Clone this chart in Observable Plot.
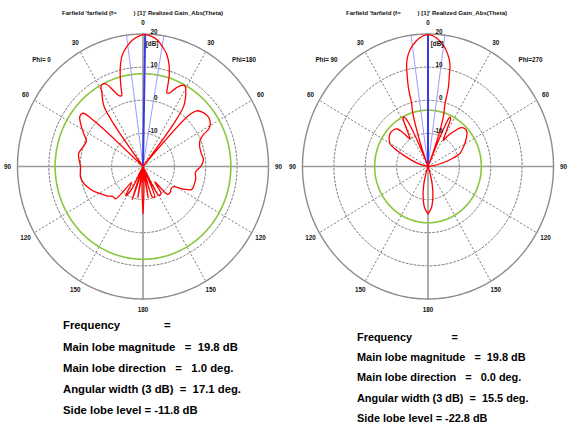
<!DOCTYPE html>
<html><head><meta charset="utf-8">
<script src="https://cdn.jsdelivr.net/npm/d3@7"></script>
<script src="https://cdn.jsdelivr.net/npm/@observablehq/plot@0.6"></script>
<style>
html,body{margin:0;padding:0;background:#fff}
body{width:568px;height:425px;overflow:hidden;position:relative;font-family:"Liberation Sans",Arial,sans-serif}
.panel{position:absolute;top:0;width:284px;height:425px}
.panel svg{position:absolute;left:0;top:0}
.stats{position:absolute;font-weight:bold;white-space:pre;color:#000}
</style></head><body>
<div id="left" class="panel" style="left:0"></div>
<div id="right" class="panel" style="left:284px"></div>
<script>
// radial scale (dB at centre and at outer circle) and grid
const DB_MIN = -20, DB_MAX = 20;
const ringDb = [-10, 0, 10];
const ringLabelDb = [20, 10, 0, -10];
const angleTicks = [0, 30, 60, 90, 120, 150, 180];
const spokeDeg = [30, 60, 120, 150, 210, 240, 300, 330];

// left cut: theta (deg, clockwise from top; left half = Phi 0) and realized gain (dB)
const leftTheta = [-180,-177,-174,-170,-166,-161,-157,-152,-148,-143,-138,-133,-128,-121,-115,-109,-104,-99,-94,-90,-84,-79,-73,-67,-62,-57,-53,-50,-48.5,-47,-38,-36,-34.5,-32.5,-30.5,-29,-27,-25,-23,-21,-19,-17.5,-16.5,-15,-13,-11,-8,-5,-2,1,4,7,10,12.5,15,16.8,18,19,21,24,27,29,31,33,35.5,37,38.5,42,43.5,45.5,49,52,55.5,59,61.5,63.5,67,72,78,84,90,96,102,108,114,118,122,127,132,137,141,145,150,154,158,162,166,170,174,177,180];
const leftGain  = [-5.8,-14,-21,-10.5,-21,-9.5,-21,-12,-9.6,-14,-6.9,-6.8,-5.5,-4.1,-2.5,-1.2,-0.3,0.2,0,-0.1,0.5,0.9,0,-0.4,1.5,3.7,5.2,5.0,1,-21,-21,-4,1.8,4,5.8,7.6,8.0,7.4,5.5,3.5,2.5,2.5,4.5,8,11.8,14.4,16.6,18.3,19.4,19.8,19.4,18.4,16.5,14.8,12,9,5.5,3.5,3.8,6,7.6,7.7,6.5,4.9,2.3,-3,-21,-21,1.5,4,5,5.5,5.6,5,4,1.5,-0.3,-1,-1,-0.6,-1.6,-3.2,-2.8,-2.8,-3.0,-5.5,-8.5,-8.8,-8.3,-8.5,-14,-10,-9.9,-20,-10,-10.3,-21,-10.5,-21,-14,-5.8];

// right cut: left half = Phi 90
const rightTheta = [-180,-175,-170,-166,-162,-158,-88,-84,-78,-72,-67.6,-64,-60.5,-55,-50,-45,-41,-38,-34.5,-32,-29.5,-28,-26.5,-25,-23.5,-22,-21,-19.5,-18,-16.5,-15.4,-14.7,-13.5,-12.4,-10.5,-7.75,-4,0,4,7.75,10.5,12.7,14,15.2,16.2,17.7,19.4,21,22,23.5,25,26.5,28,30,32,34,38,42,46,50,54,60,65,69,73,78,83,88,158,162,166,170,175,180];
const rightGain  = [-5.7,-7.5,-11,-14.5,-18,-21,-21,-20,-18.5,-15.5,-12.6,-9,-6.1,-4.9,-4.3,-4.4,-5,-7,-9.9,-8,-4.5,-3.1,-3.5,-6,-11,-18,-20,-14,-8,-2.5,-0.4,4.7,8.5,11.7,14.5,16.8,18.9,19.8,18.9,16.8,14.5,11.8,8,4.8,-1,-3.5,-8.5,-16,-20,-9,-3.6,-3.8,-6.5,-9.5,-10.8,-9,-6.5,-4.2,-3.6,-3.8,-4.8,-6.5,-8,-9.1,-12,-16,-19,-21,-21,-18,-14.5,-11,-7.5,-5.7];

// summary values
const leftMag = 19.8, leftDir = 1.0, leftWidth = 17.1, leftSll = -11.8;
const rightMag = 19.8, rightDir = 0.0, rightWidth = 15.5, rightSll = -22.8;
const leftPhi = ["Phi=\u00A00", "Phi=180"];
const rightPhi = ["Phi=\u00A090", "Phi=270"];
const titleA = "Farfield 'farfield (f=";
const titleB = ") [1]' Realized Gain_Abs(Theta)";

const NB = n => "\u00A0".repeat(n);
const FONT = "Liberation Sans, Arial, sans-serif";

function statsLines(mag, dir, width, sll, fq) {
  return [
    "Frequency" + NB(fq) + "=",
    "Main lobe magnitude" + NB(3) + "=" + NB(2) + mag.toFixed(1) + " dB",
    "Main lobe direction" + NB(3) + "=" + NB(3) + dir.toFixed(1) + " deg.",
    "Angular width (3 dB)" + NB(2) + "=" + NB(2) + width.toFixed(1) + " deg.",
    "Side lobe level = " + sll.toFixed(1) + " dB"
  ];
}

function drawPanel(el, cfg) {
  const rad = db => Math.max(0, db - DB_MIN);
  const pt = (deg, db) => { const a = deg * Math.PI / 180, r = rad(db); return {x: r * Math.sin(a), y: r * Math.cos(a)}; };
  const circ = (db, k) => d3.range(0, 361, 1).map(a => ({...pt(a, db), k}));
  const ringPts = ringDb.flatMap(db => circ(db, db));
  const outerPts = circ(DB_MAX, "o");
  const sllPts = circ(cfg.mag + cfg.sll, "s");
  const curvePts = cfg.theta.map((t, i) => pt(t, cfg.gain[i]));
  const ray = d => { const p = pt(d, DB_MAX); return {x1: 0, y1: 0, x2: p.x, y2: p.y}; };
  const spokes = spokeDeg.map(ray);
  const axes = [[0, 180], [90, 270]].map(([a, b]) => { const p = pt(a, DB_MAX), q = pt(b, DB_MAX); return {x1: p.x, y1: p.y, x2: q.x, y2: q.y}; });
  const beam = [cfg.dir - cfg.width / 2, cfg.dir + cfg.width / 2].map(ray);
  const main = [cfg.dir].map(ray);
  const angLab = angleTicks.flatMap(t => (t === 0 || t === 180) ? [{t, s: String(t)}] : [{t: -t, s: String(t)}, {t, s: String(t)}])
    .map(o => ({...pt(o.t, DB_MAX + 3.2), s: o.s}));
  const ringLab = ringLabelDb.map(db => ({x: 0, y: rad(db), s: String(db)}));
  const txt = {fontFamily: FONT, fontWeight: "bold", fill: "#111"};

  const chart = Plot.plot({
    width: 284, height: 316, margin: 0,
    x: {domain: [-40, 40], range: cfg.xRange, axis: null},
    y: {domain: [-40, 40], range: [298.5, 33.5], axis: null},
    style: {background: "transparent", overflow: "visible"},
    marks: [
      Plot.line(ringPts, {x: "x", y: "y", z: "k", stroke: "#777", strokeWidth: 1, strokeDasharray: "2,2"}),
      Plot.link(spokes, {x1: "x1", y1: "y1", x2: "x2", y2: "y2", stroke: "#777", strokeWidth: 1, strokeDasharray: "2,2"}),
      Plot.link(axes, {x1: "x1", y1: "y1", x2: "x2", y2: "y2", stroke: "#9a9a9a", strokeWidth: 1.6}),
      Plot.line(outerPts, {x: "x", y: "y", stroke: "#8c8c8c", strokeWidth: 1.4}),
      Plot.line(sllPts, {x: "x", y: "y", stroke: "#8cc63f", strokeWidth: 1.6}),
      Plot.link(beam, {x1: "x1", y1: "y1", x2: "x2", y2: "y2", stroke: "#9c9cff", strokeWidth: 1}),
      Plot.link(main, {x1: "x1", y1: "y1", x2: "x2", y2: "y2", stroke: "#3a3ae8", strokeWidth: 2}),
      Plot.line(curvePts, {x: "x", y: "y", stroke: "#ff0000", strokeWidth: 1.3, curve: "catmull-rom"}),
      Plot.text(angLab, {x: "x", y: "y", text: "s", fontSize: 6.3, ...txt}),
      Plot.text(ringLab, {x: "x", y: "y", text: "s", fontSize: 6.3, textAnchor: "end", dx: 14.5, dy: -2, ...txt}),
      Plot.text(["[dB]"], {x: () => 0, y: () => rad(DB_MAX), text: d => d, fontSize: 6.3, dx: 9, dy: 10, ...txt}),
      Plot.text([titleA + NB(cfg.gap) + titleB], {frameAnchor: "top", dy: 10, text: d => d, fontSize: 6.1, ...txt}),
      Plot.text([cfg.phi[0]], {frameAnchor: "top-left", dx: cfg.phiX[0], dy: 57, textAnchor: "middle", text: d => d, fontSize: 6.3, ...txt}),
      Plot.text([cfg.phi[1]], {frameAnchor: "top-left", dx: cfg.phiX[1], dy: 57, textAnchor: "middle", text: d => d, fontSize: 6.3, ...txt})
    ]
  });
  el.appendChild(chart);

  const div = document.createElement("div");
  div.className = "stats";
  div.style.left = cfg.statsLeft + "px";
  div.style.top = cfg.statsTop + "px";
  div.style.lineHeight = cfg.lineH + "px";
  div.style.fontSize = cfg.fontSize + "px";
  div.textContent = cfg.stats.join("\n");
  el.appendChild(div);
}

drawPanel(document.getElementById("left"), {
  theta: leftTheta, gain: leftGain, mag: leftMag, dir: leftDir, width: leftWidth, sll: leftSll,
  xRange: [17, 268], phi: leftPhi, phiX: [41, 243.5], gap: 10,
  stats: statsLines(leftMag, leftDir, leftWidth, leftSll, 14),
  statsLeft: 63, statsTop: 315.4, lineH: 21.2, fontSize: 11.3
});
drawPanel(document.getElementById("right"), {
  theta: rightTheta, gain: rightGain, mag: rightMag, dir: rightDir, width: rightWidth, sll: rightSll,
  xRange: [18, 269], phi: rightPhi, phiX: [42, 246], gap: 10,
  stats: statsLines(rightMag, rightDir, rightWidth, rightSll, 13),
  statsLeft: 73, statsTop: 326.5, lineH: 20.4, fontSize: 10.9
});
</script></body></html>
